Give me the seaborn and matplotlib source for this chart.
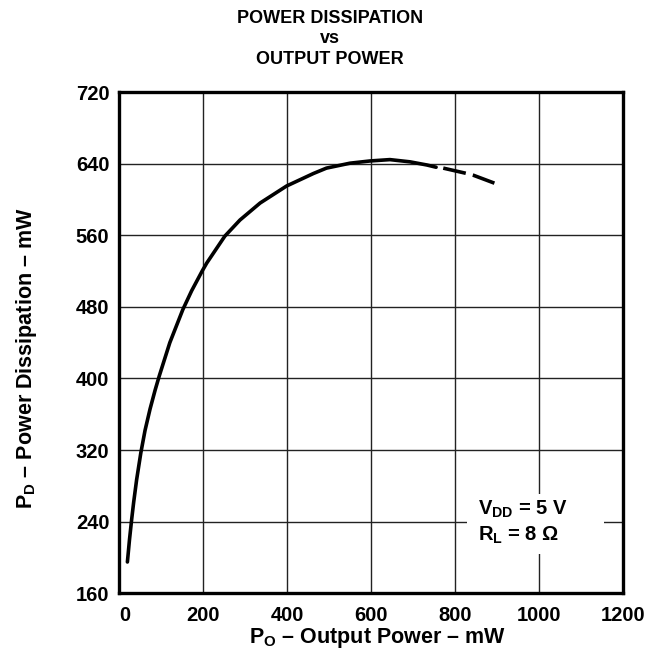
import matplotlib
matplotlib.use("Agg")
import matplotlib.pyplot as plt
import matplotlib.transforms as mtransforms
from matplotlib.patches import Rectangle
import seaborn as sns
import pandas as pd

# curve (mW)
po_solid = [20, 25, 30, 35, 42, 52, 62, 74, 86, 96, 121, 152, 173, 198, 209, 252, 288, 336,
            399, 463, 494, 550, 598, 645, 693, 733, 755]
pd_solid = [195, 220, 242, 262, 287, 317, 342, 366, 387, 403, 440, 477, 498, 520, 529, 559, 577, 596,
            615, 629, 635, 640.5, 643, 644.5, 642, 638.5, 636]
po_dash = [755, 772, 828, 844, 895]
pd_dash = [636, 635, 629, 627, 618]

x_ticks = [0, 200, 400, 600, 800, 1000, 1200]
y_ticks = [160, 240, 320, 400, 480, 560, 640, 720]

sns.set_theme(style="whitegrid")
plt.rcParams["font.family"] = ["Liberation Sans", "DejaVu Sans"]
plt.rcParams["font.weight"] = "bold"
plt.rcParams["text.color"] = "black"
plt.rcParams["axes.labelcolor"] = "black"
plt.rcParams["xtick.color"] = "black"
plt.rcParams["ytick.color"] = "black"
plt.rcParams["mathtext.fontset"] = "custom"
plt.rcParams["mathtext.bf"] = "Liberation Sans:bold"
plt.rcParams["mathtext.rm"] = "Liberation Sans:bold"
plt.rcParams["mathtext.it"] = "Liberation Sans:bold"

fig = plt.figure(figsize=(6.6, 6.63), dpi=100)
ax = fig.add_axes([0.1803, 0.1051, 0.7636, 0.7561])

df_solid = pd.DataFrame({"po": po_solid, "pd": pd_solid})
df_dash = pd.DataFrame({"po": po_dash, "pd": pd_dash})
sns.lineplot(data=df_solid, x="po", y="pd", ax=ax, color="black", lw=2.6, sort=False,
             solid_joinstyle="round", solid_capstyle="round")
sns.lineplot(data=df_dash, x="po", y="pd", ax=ax, color="black", lw=2.6, sort=False,
             linestyle=(6.4, (6.4, 2.0)))

ax.set_xlim(0, 1200)
ax.set_ylim(160, 720)
ax.set_xticks(x_ticks)
ax.set_yticks(y_ticks)
ax.tick_params(axis="y", labelsize=14.5, length=0, pad=7, labelcolor="black")
ax.tick_params(axis="x", labelsize=14.5, length=0, pad=9, labelcolor="black")
for lab in ax.get_xticklabels() + ax.get_yticklabels():
    lab.set_fontweight("bold")
# first x label sits a little right of the axis corner
xl0 = ax.get_xticklabels()[0]
xl0.set_transform(xl0.get_transform() + mtransforms.ScaledTranslation(6 / 100, 0, fig.dpi_scale_trans))

ax.grid(True, color="#222222", lw=1.0)
for s in ax.spines.values():
    s.set_visible(True)
    s.set_color("black")
    s.set_linewidth(2.4)
ax.set_facecolor("white")

ax.set_xlabel(r"$\mathregular{P_O}$ – Output Power – mW", fontsize=15.5, fontweight="bold", color="black")
ax.xaxis.set_label_coords(0.512, -0.066)
ax.set_ylabel(r"$\mathregular{P_D}$ – Power Dissipation – mW", fontsize=15.5, fontweight="bold", color="black")
ax.yaxis.set_label_coords(-0.158, 0.47)

fig.text(0.5, 0.9653, "POWER DISSIPATION", ha="center", va="baseline", fontsize=13,
         fontweight="bold", color="black")
fig.text(0.5, 0.9351, "vs", ha="center", va="baseline", fontsize=13, fontweight="bold", color="black")
fig.text(0.5, 0.9035, "OUTPUT POWER", ha="center", va="baseline", fontsize=13,
         fontweight="bold", color="black")

# white patch behind the conditions note
ax.add_patch(Rectangle((829, 204), 326, 67, fc="white", ec="none", zorder=4))
ax.text(855, 239, "$\\mathregular{V_{DD}}$ = 5 V\n$\\mathregular{R_L}$ = 8 Ω", fontsize=14.5,
        fontweight="bold", ha="left", va="center", linespacing=1.3, zorder=5, color="black")

fig.savefig("out.png", dpi=100, facecolor="white")
